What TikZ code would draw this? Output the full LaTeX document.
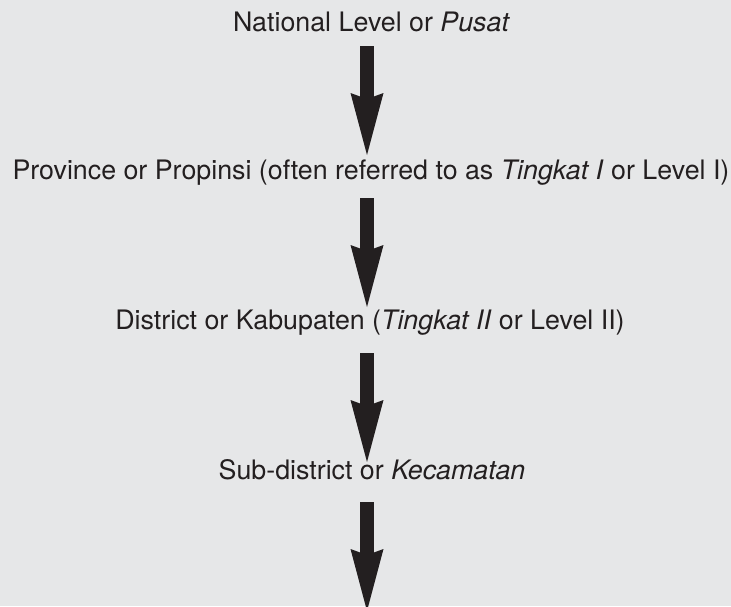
\documentclass[tikz,border=0pt]{standalone}
\usepackage{fontspec}
\setmainfont{TeX Gyre Heros}
\usetikzlibrary{arrows.meta}

\definecolor{bggray}{HTML}{E6E7E8}
\definecolor{inkdark}{HTML}{231F20}

\tikzset{
  level/.style={anchor=base, inner sep=0pt, text=inkdark,
    font=\fontsize{26.8}{30}\selectfont},
  bigarrow/.style={inkdark, line width=14pt,
    -{Stealth[length=62pt, width=33pt, inset=6pt, line width=0pt]}}
}

\begin{document}
\begin{tikzpicture}[x=1pt,y=-1pt]
  \fill[bggray] (0,0) rectangle (731,606);
  \useasboundingbox (0,0) rectangle (731,606);

  \coordinate (axis) at (367,0);
  \coordinate (bottom) at (367,611);

  \node[level] (nat)  at (371.5,31) {National Level or \textit{Pusat}};
  \node[level] (prov) at (371,179)  {Province or Propinsi (often referred to as \textit{Tingkat I} or Level I)};
  \node[level] (dist) at (370,329)  {District or Kabupaten (\textit{Tingkat II} or Level II)};
  \node[level] (sub)  at (372,479)  {Sub-district or \textit{Kecamatan}};

  \draw[bigarrow, shorten <=15pt, shorten >=24pt] (nat.base -| axis) -- (prov.base -| axis);
  \draw[bigarrow, shorten <=19pt, shorten >=22pt] (prov.base -| axis) -- (dist.base -| axis);
  \draw[bigarrow, shorten <=24pt, shorten >=17pt] (dist.base -| axis) -- (sub.base -| axis);
  \draw[bigarrow, shorten <=23pt] (sub.base -| axis) -- (bottom);
\end{tikzpicture}
\end{document}
